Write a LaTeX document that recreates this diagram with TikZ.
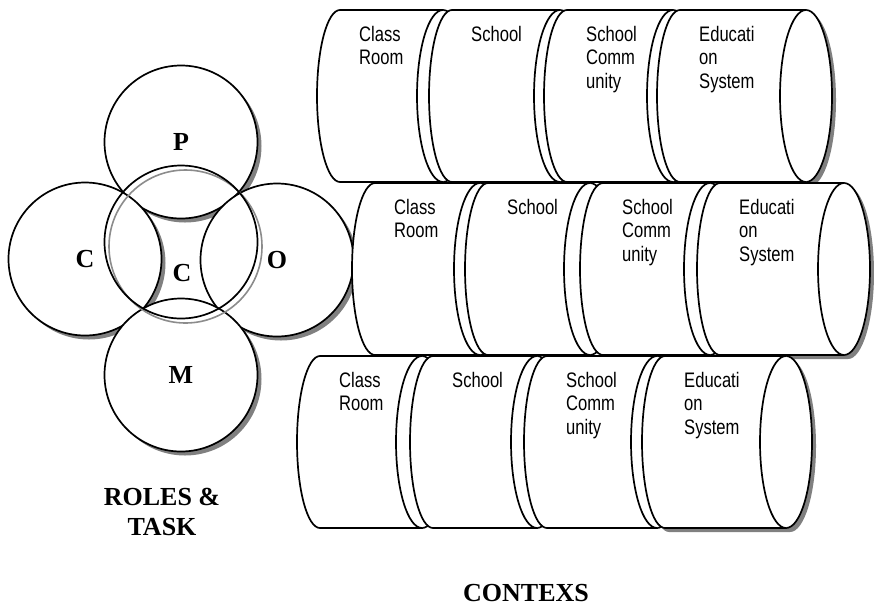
\documentclass[tikz,border=0pt]{standalone}
\usepackage{fontspec}
\newfontfamily\drumfont[FakeStretch=0.79]{Liberation Sans}
\newfontfamily\rolefont{Liberation Serif}
\usetikzlibrary{shadows}

% one context drum: [extra style] {left x}{right x}{top y}{name}{text}
\newcommand{\drum}[6][]{%
  \filldraw[drum,#1] (#2,#4) -- (#3,#4)
    arc[start angle=-90,end angle=90,x radius=26,y radius=86]
    -- (#2,#4+172)
    arc[start angle=90,end angle=270,x radius=23,y radius=86] -- cycle;
  \draw[drum] (#3,#4+172) arc[start angle=90,end angle=270,x radius=26,y radius=86];
  \node[drumtext] (#5) at (#2+19,#4+16) {#6};
}

\begin{document}
\begin{tikzpicture}[x=1pt,y=-1pt,
  greyshadow/.style={drop shadow={shadow xshift=4pt,shadow yshift=-4pt,fill=black!50,opacity=1}},
  rnode/.style={circle,draw,line width=1.7pt,fill=white,minimum size=153pt,inner sep=0pt,
    font=\rolefont\bfseries\fontsize{26}{30}\selectfont},
  rtext/.style={font=\rolefont\bfseries\fontsize{26}{30}\selectfont,align=center,inner sep=0pt},
  drum/.style={draw,line width=1.7pt,fill=white},
  drumtext/.style={anchor=north west,align=left,inner sep=0pt,
    font=\drumfont\fontsize{21}{23.5}\selectfont}]
	\useasboundingbox (0,0) rectangle (874,606);

	% roles and task
	\node[rnode,greyshadow] (p) at (181,142) {P};
	\node[rnode,greyshadow] (c) at (85,259) {C};
	\node[rnode,greyshadow] (o) at (277,260) {O};
	\node[rnode,greyshadow] (m) at (181,375) {M};
	\draw[black!45,line width=1.6pt] ([xshift=4.5pt,yshift=-4.5pt]181,242) circle[radius=76.5pt];
	\node[rnode,fill=none] (core) at (181,242) {};
	\node[rtext] (corec) at (182,273) {C};
	\node[rtext,anchor=north] (roles) at (162,488) {ROLES \&\\TASK};

	% contexts
	\drum{340}{443}{10}{room1}{Class\\Room}
	\drum{452}{560}{10}{school1}{School}
	\drum{567}{673}{10}{community1}{School\\Comm\\unity}
	\drum[greyshadow]{680}{806}{10}{system1}{Educati\\on\\System}

	\drum{375}{480}{183}{room2}{Class\\Room}
	\drum{488}{590}{183}{school2}{School}
	\drum{603}{710}{183}{community2}{School\\Comm\\unity}
	\drum[greyshadow]{720}{844}{183}{system2}{Educati\\on\\System}

	\drum{320}{422}{356}{room3}{Class\\Room}
	\drum{433}{537}{356}{school3}{School}
	\drum{547}{657}{356}{community3}{School\\Comm\\unity}
	\drum[greyshadow]{665}{786}{356}{system3}{Educati\\on\\System}

	\node[rtext] (contexs) at (526,593.5) {CONTEXS};
\end{tikzpicture}
\end{document}
